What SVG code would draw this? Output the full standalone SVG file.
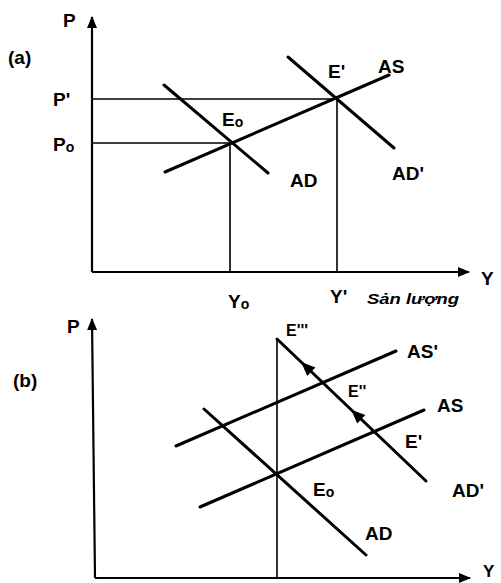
<svg xmlns="http://www.w3.org/2000/svg" width="501" height="583" viewBox="0 0 501 583">
<style>
.ax{stroke:#000;stroke-width:2.2;fill:none}
.cv{stroke:#000;stroke-width:3;fill:none;stroke-linecap:round}
.gd{stroke:#000;stroke-width:1.6;fill:none}
.t{font-family:"Liberation Sans",Arial,sans-serif;font-weight:bold;font-size:19px;fill:#000}
.s{font-size:14px}
.m{font-size:16px}
.hd{font-family:"Liberation Sans",Arial,sans-serif;font-weight:bold;font-style:italic;font-size:15px;fill:#000}
.ah{fill:#000}
</style>
<defs>
<marker id="arr" viewBox="0 0 12 10" refX="11" refY="5" markerWidth="12" markerHeight="10" markerUnits="userSpaceOnUse" orient="auto">
<path d="M0,0 L12,5 L0,10 Z" fill="#000"/>
</marker>
</defs>
<rect width="501" height="583" fill="#fff"/>
<g id="panel-a">
<g id="axes-a">
<line class="ax" x1="92" y1="272" x2="92" y2="17" marker-end="url(#arr)"/>
<line class="ax" x1="92" y1="272" x2="469" y2="272" marker-end="url(#arr)"/>
</g>
<g id="guides-a">
<line class="gd" x1="92" y1="99" x2="337" y2="99"/>
<line class="gd" x1="92" y1="143" x2="230" y2="143"/>
<line class="gd" x1="230" y1="143" x2="230" y2="272"/>
<line class="gd" x1="337" y1="99" x2="337" y2="272"/>
</g>
<g id="curves-a">
<line id="AD-a" class="cv" x1="164" y1="85" x2="268" y2="173"/>
<line id="AS-a" class="cv" x1="165" y1="172" x2="389" y2="75"/>
<line id="ADp-a" class="cv" x1="288" y1="57" x2="394" y2="148"/>
</g>
<g id="labels-a">
<text class="t" x="63" y="27">P</text>
<text class="t" x="8" y="64">(a)</text>
<text class="t" x="53" y="106">P'</text>
<text class="t" x="53" y="151">P<tspan class="s" dy="1">o</tspan></text>
<text class="t" x="222" y="126">E<tspan class="s" dy="1">o</tspan></text>
<text class="t" x="328" y="78">E'</text>
<text class="t" x="378" y="73">AS</text>
<text class="t" x="290" y="187">AD</text>
<text class="t" x="392" y="180">AD'</text>
<text class="t" x="228" y="308">Y<tspan class="s" dy="1">o</tspan></text>
<text class="t" x="330" y="303">Y'</text>
<text class="hd" x="367" y="304" textLength="92" lengthAdjust="spacingAndGlyphs">Sản lượng</text>
<text class="t" x="481" y="285">Y</text>
</g>
</g>
<g id="panel-b">
<g id="axes-b">
<line class="ax" x1="95" y1="578" x2="92" y2="319" marker-end="url(#arr)"/>
<line class="ax" x1="95" y1="578" x2="470" y2="578" marker-end="url(#arr)"/>
</g>
<g id="guides-b">
<line class="gd" x1="277" y1="339" x2="277" y2="578"/>
</g>
<g id="curves-b">
<line id="AD-b" class="cv" x1="204" y1="409" x2="366" y2="555"/>
<line id="AS-b" class="cv" x1="200" y1="507" x2="424" y2="410"/>
<line id="ASp-b" class="cv" x1="176" y1="446" x2="396" y2="351"/>
<line id="ADp-b" class="cv" x1="277" y1="339" x2="426" y2="481"/>
<polygon class="ah" points="301.2,362.1 315.4,367.4 307.2,376.0"/>
<polygon class="ah" points="351.2,409.7 365.4,415.0 357.2,423.6"/>
</g>
<g id="labels-b">
<text class="t" x="67" y="333">P</text>
<text class="t" x="13" y="387">(b)</text>
<text class="t m" x="286" y="336">E'''</text>
<text class="t" x="407" y="358">AS'</text>
<text class="t m" x="348" y="397">E''</text>
<text class="t" x="437" y="412">AS</text>
<text class="t" x="405" y="448">E'</text>
<text class="t" x="452" y="497">AD'</text>
<text class="t" x="313" y="496">E<tspan class="s" dy="1">o</tspan></text>
<text class="t" x="365" y="540">AD</text>
<text class="t" x="483" y="577" style="font-size:17px">Y</text>
</g>
</g>
</svg>
